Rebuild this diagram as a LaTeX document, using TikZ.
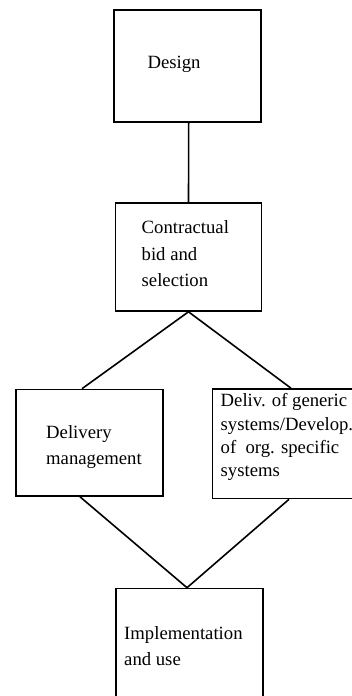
\documentclass[tikz,border=0pt]{standalone}
\usepackage{fontspec}
\setmainfont{Liberation Serif}
\usetikzlibrary{positioning}

\begin{document}
\begin{tikzpicture}[x=1pt,y=-1pt,
	stage/.style={draw, line width=1.6pt, rectangle, inner sep=0pt},
	txt/.style={anchor=base west, align=left, inner sep=0pt, font=\fontsize{18.7}{#1}\selectfont},
	link/.style={line width=1.6pt}]
	\useasboundingbox (0,0) rectangle (352,696);
	\clip (0,0) rectangle (352,696);
	% boxes
	\node[stage, minimum width=147pt, minimum height=112pt] (design) at (187.5,66) {};
	\node[stage, minimum width=146pt, minimum height=108pt] (contract) at (188.5,257) {};
	\node[stage, minimum width=147pt, minimum height=106.5pt] (delivery) at (89.5,442.75) {};
	\node[stage, minimum width=149.5pt, minimum height=109.5pt] (generic) at (287.25,443.75) {};
	\node[stage, minimum width=147pt, minimum height=121pt] (implement) at (189.5,649) {};
	% texts (anchored on the last baseline)
	\node[txt=26] (design-t) at (147.3,68.3) {Design};
	\node[txt=26.5] (contract-t) at (141.5,286.5) {Contractual\\bid and\\selection};
	\node[txt=26] (delivery-t) at (46,464.3) {Delivery\\management};
	\node[txt=23.3] (generic-t) at (220.5,476.6) {Deliv. of generic\\systems/Develop.\\of~ org. specific\\systems};
	\node[txt=25.7] (implement-t) at (124,665) {Implementation\\and use};
	% links
	\draw[link] ([xshift=1.2pt]design.south) -- (contract.north);
	\draw[link] (contract.south) -- ([xshift=-7.5pt]delivery.north);
	\draw[link] (contract.south) -- ([xshift=3.75pt]generic.north);
	\draw[link] ([xshift=-9.5pt]delivery.south) -- ([xshift=-2.5pt]implement.north);
	\draw[link] ([xshift=1.75pt]generic.south) -- ([xshift=-2.5pt]implement.north);
\end{tikzpicture}
\end{document}
